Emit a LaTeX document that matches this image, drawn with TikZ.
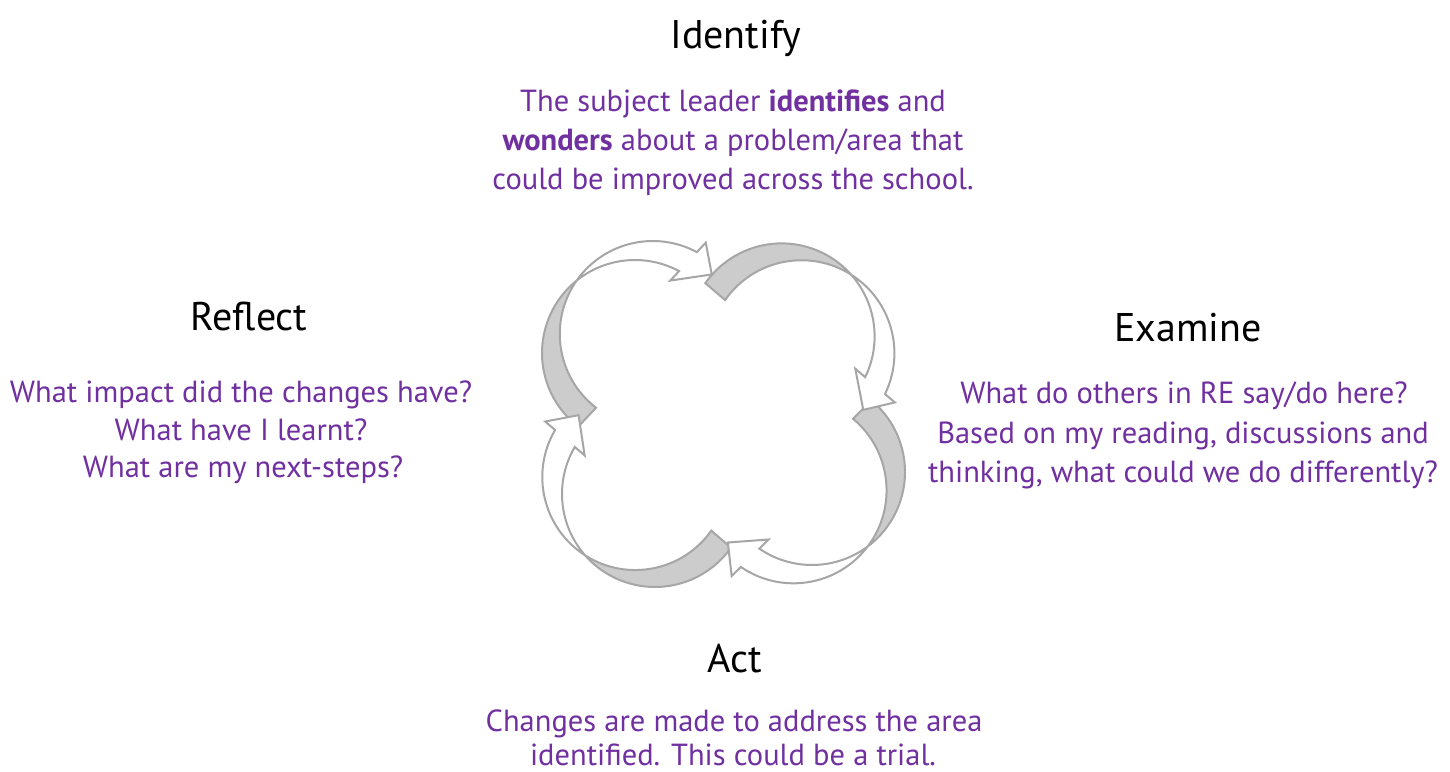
\documentclass[tikz,border=0pt]{standalone}
\usepackage{fontspec}
\setmainfont{PT Sans}
\definecolor{purp}{HTML}{7030A0}
\definecolor{edgegray}{HTML}{A6A6A6}
\definecolor{bandgray}{HTML}{CCCCCC}
\tikzset{
  bandstyle/.style={fill=bandgray, draw=edgegray, line width=2pt, line join=miter},
  frontstyle/.style={fill=white, draw=edgegray, line width=2pt, line join=miter},
  titletext/.style={font=\fontsize{40}{48}\selectfont, text=black, anchor=base, inner sep=0pt},
  bodytext/.style={font=\fontsize{30.5}{36}\selectfont, text=purp, anchor=base, inner sep=0pt}
}
\newcommand{\arPrep}[4]{%
  \pgfmathsetmacro{\arT}{#3}%
  \pgfmathsetmacro{\arH}{#4}%
  \pgfmathsetmacro{\arD}{#3-185.5}%
  \pgfmathsetmacro{\arCA}{#3-103.5}%
  \pgfmathsetmacro{\arCB}{#3-87.5}%
  \pgfmathsetmacro{\arHM}{#4-90}%
  \pgfmathsetmacro{\dX}{26*cos(\arD)}%
  \pgfmathsetmacro{\dY}{26*sin(\arD)}%
  \pgfmathsetmacro{\cbX}{\dX+93*cos(\arCB)}%
  \pgfmathsetmacro{\cbY}{\dY+93*sin(\arCB)}%
  \pgfmathsetmacro{\ahX}{93*cos(\arH)}%
  \pgfmathsetmacro{\ahY}{93*sin(\arH)}%
  \pgfmathsetmacro{\ibX}{\ahX-0.5*\dX}%
  \pgfmathsetmacro{\ibY}{\ahY-0.5*\dY}%
  \pgfmathsetmacro{\obX}{\ahX+1.5*\dX}%
  \pgfmathsetmacro{\obY}{\ahY+1.5*\dY}%
  \pgfmathsetmacro{\bhX}{\ahX+\dX}%
  \pgfmathsetmacro{\bhY}{\ahY+\dY}%
  \pgfmathsetmacro{\tpX}{\ahX+0.5*\dX+27*cos(\arHM)}%
  \pgfmathsetmacro{\tpY}{\ahY+0.5*\dY+27*sin(\arHM)}%
}
\newcommand{\arBack}[4]{%
  \begin{scope}[shift={(#1,771-#2)}]
    \arPrep{#1}{#2}{#3}{#4}
    \filldraw[bandstyle] (\arT:93pt) arc[start angle=\arT, end angle=\arCA, radius=93pt]
      -- (\cbX,\cbY) arc[start angle=\arCB, end angle=\arT, radius=93pt] -- cycle;
  \end{scope}}
\newcommand{\arFront}[4]{%
  \begin{scope}[shift={(#1,771-#2)}]
    \arPrep{#1}{#2}{#3}{#4}
    \filldraw[frontstyle] (\arCA:93pt) arc[start angle=\arCA, end angle=\arH, radius=93pt]
      -- (\ibX,\ibY) -- (\tpX,\tpY) -- (\obX,\obY) -- (\bhX,\bhY)
      arc[start angle=\arH, end angle=\arCB, radius=93pt] -- cycle;
  \end{scope}}
\begin{document}
\begin{tikzpicture}[x=1pt,y=1pt]
\useasboundingbox[fill=white] (0,0) rectangle (1450,771);
% grey back parts
\arBack{781.6}{336.4}{145.1}{-26}
\arBack{812}{472}{50.3}{-124.5}
\arBack{655}{494}{-35.2}{-210.4}
\arBack{635}{353}{-127.6}{-298.3}
% white front parts
\arFront{781.6}{336.4}{145.1}{-26}
\arFront{812}{472}{50.3}{-124.5}
\arFront{655}{494}{-35.2}{-210.4}
\arFront{635}{353}{-127.6}{-298.3}
% texts
\node[titletext] (idT) at (736,771-49) {Identify};
\node[bodytext] (id1) at (733,771-112) {The subject leader \textbf{identifies} and};
\node[bodytext] (id2) at (733,771-151) {\textbf{wonders} about a problem/area that};
\node[bodytext] (id3) at (733,771-190) {could be improved across the school.};
\node[titletext] (rfT) at (249,771-331) {Reflect};
\node[bodytext] (rf1) at (241,771-403) {What impact did the changes have?};
\node[bodytext] (rf2) at (241,771-441) {What have I learnt?};
\node[bodytext] (rf3) at (243,771-478) {What are my next-steps?};
\node[titletext] (exT) at (1188,771-342) {Examine};
\node[bodytext] (ex1) at (1184,771-404) {What do others in RE say/do here?};
\node[bodytext] (ex2) at (1183,771-444) {Based on my reading, discussions and};
\node[bodytext] (ex3) at (1183,771-483) {thinking, what could we do differently?};
\node[titletext] (acT) at (735,771-672) {Act};
\node[bodytext] (ac1) at (734,771-731) {Changes are made to address the area};
\node[bodytext] (ac2) at (733,771-765) {identified. This could be a trial.};
\end{tikzpicture}
\end{document}
